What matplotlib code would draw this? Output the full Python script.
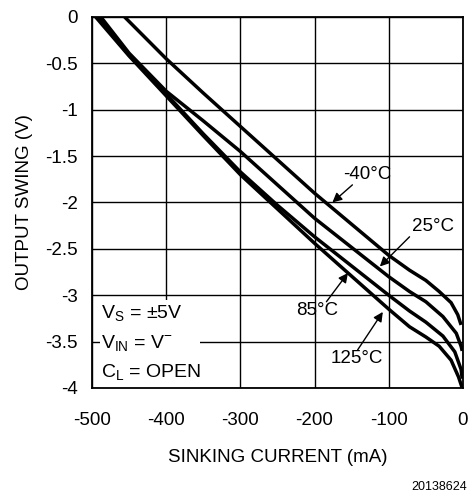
import matplotlib
matplotlib.use("Agg")
import matplotlib.pyplot as plt
from matplotlib.patches import Rectangle

plt.rcParams['font.family'] = ['Liberation Sans', 'DejaVu Sans']
plt.rcParams['mathtext.fontset'] = 'custom'
plt.rcParams['mathtext.rm'] = 'Liberation Sans'

# sinking current (mA) / output swing (V)
i_m40 = [-456, -400, -350, -300, -200, -100, -72, -50, -32, -16, -7, -2.5]
v_m40 = [0, -0.45, -0.82, -1.18, -1.9, -2.57, -2.73, -2.84, -2.96, -3.08, -3.21, -3.32]

i_25 = [-488, -450, -400, -350, -300, -200, -100, -72, -50, -27, -9, -2.5, -1]
v_25 = [0, -0.39, -0.8, -1.12, -1.45, -2.17, -2.8, -2.96, -3.07, -3.23, -3.41, -3.55, -3.6]

i_85 = [-493, -450, -400, -350, -300, -250, -200, -100, -72, -50, -27, -11, -2.5, -1]
v_85 = [0, -0.41, -0.83, -1.26, -1.67, -2.03, -2.37, -3.0, -3.17, -3.29, -3.44, -3.61, -3.8, -3.9]

i_125 = [-495, -450, -400, -350, -300, -250, -200, -100, -72, -50, -32, -16, -6, -1]
v_125 = [0, -0.42, -0.85, -1.28, -1.7, -2.07, -2.44, -3.15, -3.34, -3.45, -3.55, -3.7, -3.88, -4.0]

curves = [(i_m40, v_m40), (i_25, v_25), (i_85, v_85), (i_125, v_125)]

# label text position, arrow tail, arrow tip
labels = [
    ("-40°C", (-129, -1.70), (-149, -1.81), (-176, -2.0)),
    ("25°C", (-41, -2.26), (-72, -2.37), (-112, -2.69)),
    ("85°C", (-196, -3.16), (-184, -3.07), (-155, -2.76)),
    ("125°C", (-143, -3.68), (-142, -3.59), (-108, -3.18)),
]

x_ticks = [-500, -400, -300, -200, -100, 0]
y_ticks = [0, -0.5, -1, -1.5, -2, -2.5, -3, -3.5, -4]
y_tick_labels = ['0', '-0.5', '-1', '-1.5', '-2', '-2.5', '-3', '-3.5', '-4']

fig = plt.figure(figsize=(4.70, 4.98), dpi=100)
ax = fig.add_axes([0.1957, 0.2209, 0.7893, 0.745])

for xs, ys in curves:
    ax.plot(xs, ys, color='black', lw=2.5, solid_capstyle='butt', zorder=3)

ax.set_xlim(-500, 0)
ax.set_ylim(-4, 0)
ax.set_xticks(x_ticks)
ax.set_xticklabels([str(t) for t in x_ticks])
ax.set_yticks(y_ticks)
ax.set_yticklabels(y_tick_labels)
ax.tick_params(length=0, labelsize=13.5)
ax.tick_params(axis='x', pad=17)
ax.tick_params(axis='y', pad=10)
ax.grid(True, color='black', lw=1.0)
ax.set_axisbelow(True)
for s in ax.spines.values():
    s.set_linewidth(1.3)

# white patch behind the conditions text
ax.add_patch(Rectangle((-489, -4), 134, 0.95, facecolor='white', edgecolor='none', zorder=1.5))
ax.text(-488, -3.2, r'V$_\mathregular{S}$ = ±5V', fontsize=14, va='center', ha='left', zorder=4)
ax.text(-488, -3.52, r'V$_\mathregular{IN}$ = V$^\mathregular{-}$', fontsize=14, va='center', ha='left', zorder=4)
ax.text(-488, -3.84, r'C$_\mathregular{L}$ = OPEN', fontsize=14, va='center', ha='left', zorder=4)

for txt, pos, tail, tip in labels:
    ax.text(pos[0], pos[1], txt, fontsize=13.5, ha='center', va='center', zorder=4)
    ax.annotate('', xy=tip, xytext=tail,
                arrowprops=dict(arrowstyle='-|>', color='black', lw=1.0, mutation_scale=14,
                                shrinkA=0, shrinkB=0), zorder=4)

ax.set_xlabel('SINKING CURRENT (mA)', fontsize=13.5, labelpad=15)
ax.set_ylabel('OUTPUT SWING (V)', fontsize=13.5, labelpad=9)

fig.text(0.994, 0.022, '20138624', fontsize=9, ha='right', va='center')

fig.savefig('out.png', dpi=100)
